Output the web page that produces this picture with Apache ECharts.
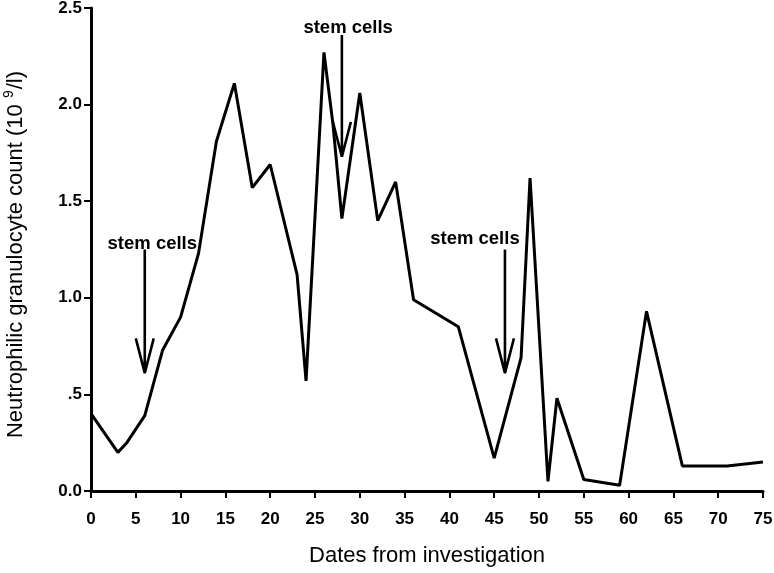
<!DOCTYPE html>
<html>
<head>
<meta charset="utf-8">
<script src="https://cdn.jsdelivr.net/npm/echarts@6/dist/echarts.min.js"></script>
<style>html,body{margin:0;padding:0;background:#fff}#c{width:774px;height:573px}</style>
</head>
<body>
<div id="c"></div>
<script>
// Neutrophil counts by day
const days   = [0, 3, 4, 6, 8, 10, 12, 14, 16, 18, 20, 23, 24, 26, 27, 28, 30, 32, 34, 36, 41, 45, 48, 49, 51, 52, 55, 59, 62, 66, 71, 75];
const counts = [0.40, 0.20, 0.25, 0.39, 0.73, 0.90, 1.23, 1.81, 2.11, 1.57, 1.69, 1.12, 0.57, 2.27, 1.90, 1.41, 2.06, 1.40, 1.60, 0.99, 0.85, 0.17, 0.69, 1.62, 0.05, 0.48, 0.06, 0.03, 0.93, 0.13, 0.13, 0.15];

// stem-cell arrows
const arrowDays = [6, 28, 46.2];
const arrowTops = [1.25, 2.36, 1.25];
const arrowTips = [0.61, 1.73, 0.61];
const wingDx = 1.0;
const wingDy = 0.18;

// annotation labels
const labelText = 'stem cells';
const labelDays = [6.84, 28.7, 42.85];
const labelValues = [1.28, 2.395, 1.305];

const xTicks = [0, 5, 10, 15, 20, 25, 30, 35, 40, 45, 50, 55, 60, 65, 70, 75];
const yTickLabels = {0: '0.0', 0.5: '.5', 1: '1.0', 1.5: '1.5', 2: '2.0', 2.5: '2.5'};

const lineData = days.map((d, i) => [d, counts[i]]);
const arrowData = [];
arrowDays.forEach((d, i) => {
  arrowData.push([d, arrowTops[i]], [d, arrowTips[i]], null,
                 [d - wingDx, arrowTips[i] + wingDy], [d, arrowTips[i]], [d + wingDx, arrowTips[i] + wingDy], null);
});
const labelData = labelDays.map((d, i) => [d, labelValues[i]]);

const chart = echarts.init(document.getElementById('c'));
const font = 'Arial, "Liberation Sans", sans-serif';
chart.setOption({
  animation: false,
  backgroundColor: '#fff',
  grid: {left: 91, right: 11, top: 8, bottom: 82, containLabel: false, outerBoundsMode: 'none'},
  xAxis: {
    type: 'value', min: 0, max: 75, interval: 5,
    name: 'Dates from investigation', nameLocation: 'middle', nameGap: 54,
    nameTextStyle: {fontFamily: font, fontSize: 22, color: '#000'},
    axisLine: {show: true, onZero: false, lineStyle: {color: '#000', width: 3}},
    axisTick: {show: true, length: 7, lineStyle: {color: '#000', width: 2}},
    axisLabel: {margin: 20, fontFamily: font, fontSize: 17, fontWeight: 'bold', color: '#000'},
    splitLine: {show: false}
  },
  yAxis: {
    type: 'value', min: 0, max: 2.5, interval: 0.5,
    name: '{n|Neutrophilic granulocyte count (10 }{s|9}{n|/l)}', nameLocation: 'middle', nameGap: 62,
    nameTextStyle: {
      fontFamily: font, fontSize: 22, color: '#000', padding: [0, 10, 0, 0],
      rich: {
        n: {fontFamily: font, fontSize: 22, color: '#000'},
        s: {fontFamily: font, fontSize: 14, color: '#000', verticalAlign: 'bottom', padding: [0, 1, 13, 0]}
      }
    },
    axisLine: {show: true, onZero: false, lineStyle: {color: '#000', width: 3}},
    axisTick: {show: true, length: 7, lineStyle: {color: '#000', width: 2}},
    axisLabel: {margin: 9, fontFamily: font, fontSize: 17, fontWeight: 'bold', color: '#000',
      formatter: v => yTickLabels[v] !== undefined ? yTickLabels[v] : ''},
    splitLine: {show: false}
  },
  series: [
    {type: 'line', data: lineData, showSymbol: false, symbol: 'none',
     lineStyle: {color: '#000', width: 3}, z: 3},
    {type: 'line', data: arrowData, showSymbol: false, symbol: 'none', connectNulls: false,
     lineStyle: {color: '#000', width: 2.6}, z: 3},
    {type: 'scatter', data: labelData, symbolSize: 0, silent: true, itemStyle: {color: '#000', opacity: 1},
     label: {show: true, position: 'inside', formatter: labelText, fontFamily: font, opacity: 1,
             fontSize: 18.5, fontWeight: 'bold', color: '#000', textBorderWidth: 0}}
  ]
});
</script>
</body>
</html>
